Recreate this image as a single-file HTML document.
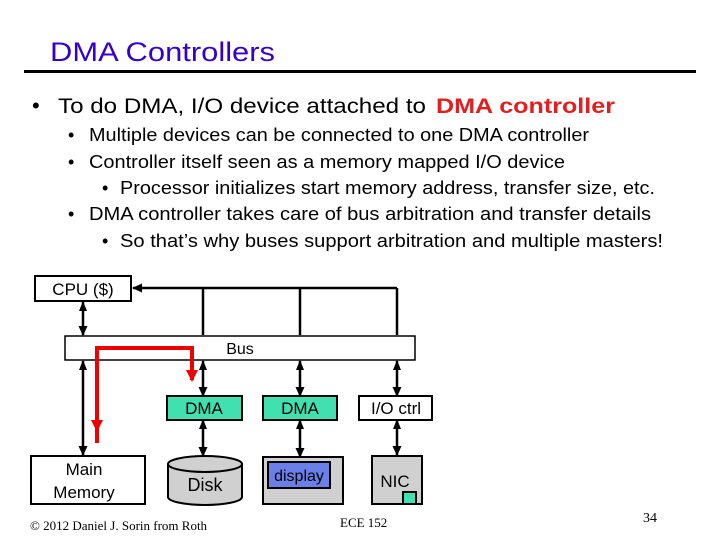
<!DOCTYPE html>
<html><head><meta charset="utf-8"><style>
html,body{margin:0;padding:0;background:#fff;width:720px;height:540px;overflow:hidden}
svg{display:block}
text{font-family:"Liberation Sans",sans-serif}
</style></head><body>
<svg width="720" height="540" viewBox="0 0 720 540" xmlns="http://www.w3.org/2000/svg">
<defs>
<marker id="ab" markerWidth="10" markerHeight="10" refX="9" refY="5" orient="auto" markerUnits="userSpaceOnUse"><path d="M0,0.5 L10,5 L0,9.5 z" fill="#000"/></marker>
<marker id="as" markerWidth="10" markerHeight="10" refX="9" refY="5" orient="auto-start-reverse" markerUnits="userSpaceOnUse"><path d="M0,1 L10,5 L0,9 z" fill="#000"/></marker>
<marker id="ar" markerWidth="12" markerHeight="12" refX="10" refY="6" orient="auto" markerUnits="userSpaceOnUse"><path d="M0,0 L12,6 L0,12 z" fill="#e00"/></marker>
</defs>
<text x="50" y="61" font-size="27" fill="#3300cc" textLength="225" lengthAdjust="spacingAndGlyphs">DMA Controllers</text>
<rect x="24" y="70" width="672" height="3" fill="#000"/>
<text x="32" y="113" font-size="22">•</text>
<text x="58" y="113" font-size="21" textLength="368" lengthAdjust="spacingAndGlyphs">To do DMA, I/O device attached to</text>
<text x="436" y="113" font-size="21" font-weight="bold" fill="#e02020" textLength="179" lengthAdjust="spacingAndGlyphs">DMA controller</text>
<g font-size="18">
<text x="68" y="141">•</text><text x="89" y="141" textLength="500" lengthAdjust="spacingAndGlyphs">Multiple devices can be connected to one DMA controller</text>
<text x="68" y="168">•</text><text x="89" y="168" textLength="476" lengthAdjust="spacingAndGlyphs">Controller itself seen as a memory mapped I/O device</text>
<text x="102" y="194">•</text><text x="120" y="194" textLength="535" lengthAdjust="spacingAndGlyphs">Processor initializes start memory address, transfer size, etc.</text>
<text x="68" y="220">•</text><text x="89" y="220" textLength="562" lengthAdjust="spacingAndGlyphs">DMA controller takes care of bus arbitration and transfer details</text>
<text x="102" y="247">•</text><text x="120" y="247" textLength="543" lengthAdjust="spacingAndGlyphs">So that’s why buses support arbitration and multiple masters!</text>
</g>
<g stroke="#000" stroke-width="2.5" fill="none">
<line x1="397" y1="288" x2="133" y2="288" marker-end="url(#ab)"/>
<line x1="203" y1="288" x2="203" y2="335"/>
<line x1="300" y1="288" x2="300" y2="335"/>
<line x1="397" y1="288" x2="397" y2="335"/>
<line x1="83" y1="302" x2="83" y2="335" marker-start="url(#as)" marker-end="url(#ab)"/>
<line x1="83" y1="361" x2="83" y2="455" marker-start="url(#as)" marker-end="url(#ab)"/>
<line x1="203" y1="361" x2="203" y2="396" marker-start="url(#as)" marker-end="url(#ab)"/>
<line x1="300" y1="361" x2="300" y2="396" marker-start="url(#as)" marker-end="url(#ab)"/>
<line x1="397" y1="361" x2="397" y2="396" marker-start="url(#as)" marker-end="url(#ab)"/>
<line x1="203" y1="420" x2="203" y2="456" marker-start="url(#as)" marker-end="url(#ab)"/>
<line x1="300" y1="420" x2="300" y2="457" marker-start="url(#as)" marker-end="url(#ab)"/>
<line x1="397" y1="420" x2="397" y2="455" marker-start="url(#as)" marker-end="url(#ab)"/>
</g>
<rect x="35" y="276" width="96" height="25" fill="#fff" stroke="#000" stroke-width="2"/>
<text x="83" y="295" font-size="17" text-anchor="middle">CPU ($)</text>
<rect x="65" y="336" width="350" height="24" fill="#fff" stroke="#000" stroke-width="1.5"/>
<text x="240" y="354" font-size="16" text-anchor="middle">Bus</text>
<rect x="167" y="396" width="75" height="24" fill="#40e0b0" stroke="#000" stroke-width="2"/>
<text x="204" y="414" font-size="17" text-anchor="middle">DMA</text>
<rect x="263" y="396" width="74" height="24" fill="#40e0b0" stroke="#000" stroke-width="2"/>
<text x="300" y="414" font-size="17" text-anchor="middle">DMA</text>
<rect x="359" y="396" width="73" height="24" fill="#fff" stroke="#000" stroke-width="2"/>
<text x="396" y="414" font-size="17" text-anchor="middle">I/O ctrl</text>
<rect x="31" y="456" width="114" height="48" fill="#fff" stroke="#000" stroke-width="2"/>
<text x="84" y="475" font-size="17" text-anchor="middle">Main</text>
<text x="84" y="498" font-size="17" text-anchor="middle">Memory</text>
<path d="M168,464 L168,497 A37,8 0 0 0 242,497 L242,464 A37,8 0 0 0 168,464 A37,8 0 0 0 242,464" fill="#d0d0d0" stroke="#000" stroke-width="2"/>
<text x="205" y="491" font-size="18" text-anchor="middle">Disk</text>
<rect x="263" y="457" width="80" height="47" fill="#d0d0d0" stroke="#000" stroke-width="2"/>
<rect x="268" y="462" width="62" height="26" fill="#6a7fe8" stroke="#000" stroke-width="2"/>
<text x="299" y="481" font-size="16" text-anchor="middle">display</text>
<rect x="372" y="456" width="50" height="48" fill="#d0d0d0" stroke="#000" stroke-width="2"/>
<text x="395" y="487" font-size="17" text-anchor="middle">NIC</text>
<rect x="403" y="492" width="13" height="12" fill="#40e0b0" stroke="#000" stroke-width="2"/>
<polyline points="97,443 97,348 192,348 192,380" fill="none" stroke="#e00" stroke-width="4" marker-end="url(#ar)"/>
<line x1="97" y1="420" x2="97" y2="430" stroke="#e00" stroke-width="4" marker-end="url(#ar)"/>
<text x="30" y="530" font-size="13" style="font-family:'Liberation Serif',serif">© 2012 Daniel J. Sorin from Roth</text>
<text x="340" y="527" font-size="13" style="font-family:'Liberation Serif',serif">ECE 152</text>
<text x="643" y="522" font-size="14" style="font-family:'Liberation Serif',serif">34</text>
</svg>
</body></html>
